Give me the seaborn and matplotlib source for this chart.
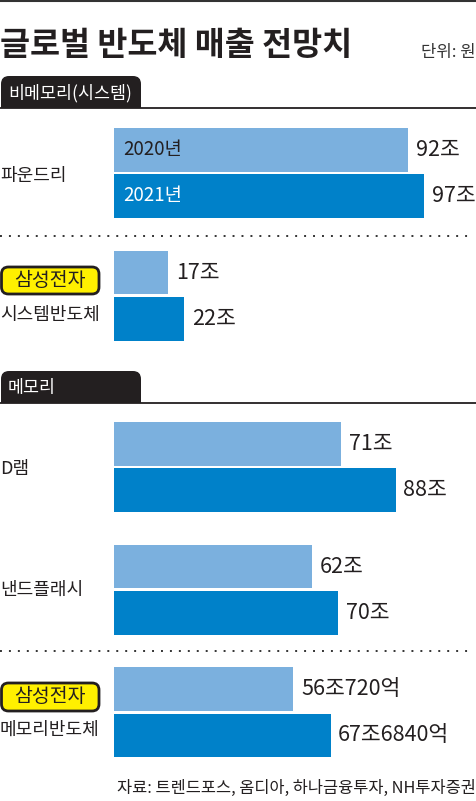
import numpy as np
import pandas as pd
import matplotlib
matplotlib.use("Agg")
import matplotlib.pyplot as plt
from matplotlib.patches import FancyBboxPatch, Rectangle
import seaborn as sns

# ---------------- data ----------------
years = ["2020년", "2021년"]
sys_categories = ["파운드리", "삼성 시스템반도체"]
sys_2020 = [92, 17]
sys_2021 = [97, 22]
sys_labels_2020 = ["92조", "17조"]
sys_labels_2021 = ["97조", "22조"]

mem_categories = ["D램", "낸드플래시", "삼성 메모리반도체"]
mem_2020 = [71, 62, 56.072]
mem_2021 = [88, 70, 67.684]
mem_labels_2020 = ["71조", "62조", "56조720억"]
mem_labels_2021 = ["88조", "70조", "67조6840억"]

title = "글로벌 반도체 매출 전망치"
unit = "단위: 원"
source = "자료: 트렌드포스, 옴디아, 하나금융투자, NH투자증권"

# ---------------- style ----------------
sns.set_style("white")
FAM = ["Noto Sans CJK KR", "DejaVu Sans"]
plt.rcParams["font.family"] = FAM

LIGHT = "#7bb0de"
DARK = "#0081c9"
INK = "#231f20"
YELLOW = "#fff000"

W, H = 477, 801
fig = plt.figure(figsize=(W / 100, H / 100), dpi=100)

# overlay axes in pixel coordinates
ov = fig.add_axes([0, 0, 1, 1])
ov.set_xlim(0, W)
ov.set_ylim(H, 0)
ov.set_axis_off()

# top rule
ov.plot([0, W], [1, 1], color="#333333", lw=1.5, solid_capstyle="butt")

# title and unit
ov.text(0, 45, title, fontsize=23.5, fontweight="bold", color=INK,
        ha="left", va="center", family=FAM)
ov.text(476, 53, unit, fontsize=12, color="#333333", ha="right",
        va="center", family=FAM)


def section_tab(y_top, y_line, text):
    box = FancyBboxPatch((1, y_top), 140, (y_line - y_top) + 12,
                         boxstyle="round,pad=0,rounding_size=8",
                         facecolor=INK, edgecolor="none", zorder=2)
    ov.add_patch(box)
    ov.add_patch(Rectangle((0, y_line), 145, 16, facecolor="white",
                           edgecolor="none", zorder=3))
    ov.plot([0, W], [y_line, y_line], color=INK, lw=1.3, zorder=4,
            solid_capstyle="butt")
    ov.text(8, (y_top + y_line) / 2 + 1, text, fontsize=12.5,
            color="white", ha="left", va="center", zorder=5, family=FAM)


section_tab(76, 108, "비메모리(시스템)")
section_tab(371, 403, "메모리")

# dotted separators
for yy in (236, 651):
    ov.plot([0, 471], [yy, yy], color="#333333", lw=1.4,
            linestyle=(0, (1, 3.6)), dash_capstyle="butt")


def samsung_box(y_top, y_bot):
    box = FancyBboxPatch((1.5, y_top), 97.5, y_bot - y_top,
                         boxstyle="round,pad=0,rounding_size=7",
                         facecolor=YELLOW, edgecolor=INK, lw=2.0, zorder=2)
    ov.add_patch(box)
    ov.text(50, (y_top + y_bot) / 2, "삼성전자", fontsize=14,
            fontweight="medium", color=INK, ha="center", va="center",
            zorder=3, family=FAM)


# category labels
CAT_FS = 13
ov.text(0, 176, "파운드리", fontsize=CAT_FS, color=INK, ha="left", va="center", family=FAM)
samsung_box(267, 294)
ov.text(0, 315, "시스템반도체", fontsize=CAT_FS, color=INK, ha="left", va="center", family=FAM)
ov.text(0, 469, "D램", fontsize=CAT_FS, color=INK, ha="left", va="center", family=FAM)
ov.text(0, 590, "낸드플래시", fontsize=CAT_FS, color=INK, ha="left", va="center", family=FAM)
samsung_box(683, 711)
ov.text(0, 730, "메모리반도체", fontsize=CAT_FS, color=INK, ha="left", va="center", family=FAM)

# source
ov.text(476, 788, source, fontsize=11.8, color=INK, ha="right",
        va="center", family=FAM)

# ---------------- bars ----------------
X0 = 114          # pixel where value 0 sits
PX_PER_UNIT = 3.2
XMAX = (W - X0) / PX_PER_UNIT


def bar_axes(top_px, n, cats, v20, v21, lab20, lab21, first_labels):
    step = 122.75
    height = n * step
    ax = fig.add_axes([X0 / W, 1 - (top_px + height) / H,
                       (W - X0) / W, height / H])
    ax.patch.set_alpha(0)
    df = pd.DataFrame({
        "cat": cats * 2,
        "value": list(v20) + list(v21),
        "year": [years[0]] * n + [years[1]] * n,
    })
    sns.barplot(data=df, y="cat", x="value", hue="year", hue_order=years,
                order=cats, orient="h", palette=[LIGHT, DARK], width=0.75,
                gap=0.05, errorbar=None, ax=ax, legend=False,
                linewidth=0, saturation=1)
    ax.set_xlim(0, XMAX)
    ax.set_ylim(n - 0.5, -0.5)
    ax.set_axis_off()
    ax.bar_label(ax.containers[0], labels=lab20, padding=5.5,
                 fontsize=15.5, fontweight="medium", color=INK, family=FAM)
    ax.bar_label(ax.containers[1], labels=lab21, padding=5.5,
                 fontsize=15.5, fontweight="medium", color=INK, family=FAM)
    if first_labels:
        for i, (cont, col) in enumerate(zip(ax.containers, [INK, "white"])):
            p = cont.patches[0]
            ax.text(3, p.get_y() + p.get_height() / 2, years[i],
                    fontsize=13.5, color=col, ha="left", va="center",
                    family=FAM)
    return ax


bar_axes(111.5, 2, sys_categories, sys_2020, sys_2021,
         sys_labels_2020, sys_labels_2021, True)
bar_axes(405.5, 3, mem_categories, mem_2020, mem_2021,
         mem_labels_2020, mem_labels_2021, False)

fig.savefig("out.png", dpi=100)
